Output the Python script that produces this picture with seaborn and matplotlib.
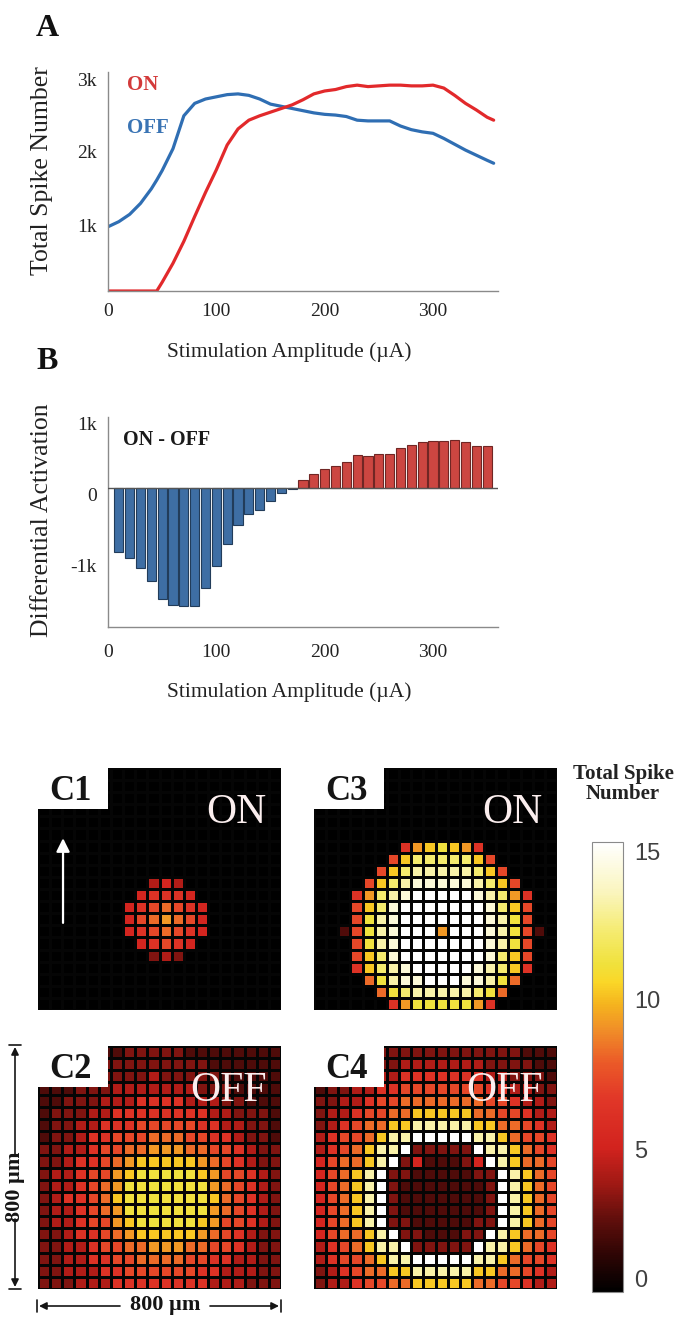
import numpy as np
import pandas as pd
import matplotlib
matplotlib.use("Agg")
import matplotlib.pyplot as plt
import matplotlib.transforms as mtransforms
from matplotlib.colors import LinearSegmentedColormap
from matplotlib.patches import Rectangle
import seaborn as sns

# ---------------- data ----------------
amplitude = [0, 10, 20, 30, 40, 45, 50, 60, 70, 80, 90, 100, 110, 120, 130, 140, 150,
             160, 170, 180, 190, 200, 210, 220, 230, 240, 250, 260, 270, 280, 290, 300,
             310, 320, 330, 340, 350, 356]
on_spikes = [0, 0, 0, 0, 0, 0, 120, 380, 680, 1020, 1350, 1660, 2000, 2220, 2340, 2400,
             2450, 2500, 2550, 2620, 2700, 2740, 2760, 2800, 2820, 2800, 2810, 2820, 2820,
             2810, 2810, 2820, 2780, 2680, 2570, 2480, 2380, 2340]
off_spikes = [880, 950, 1050, 1200, 1400, 1520, 1650, 1950, 2400, 2570, 2630, 2660, 2690,
              2700, 2680, 2630, 2560, 2530, 2500, 2470, 2440, 2420, 2410, 2390, 2340, 2330,
              2330, 2330, 2260, 2210, 2180, 2160, 2090, 2010, 1930, 1860, 1790, 1750]

diff_amplitude = [10, 20, 30, 40, 50, 60, 70, 80, 90, 100, 110, 120, 130, 140, 150, 160,
                  170, 180, 190, 200, 210, 220, 230, 240, 250, 260, 270, 280, 290, 300,
                  310, 320, 330, 340, 350]
diff_values = [-900, -990, -1130, -1310, -1570, -1660, -1670, -1670, -1420, -1100, -800,
               -520, -370, -310, -190, -80, -20, 110, 200, 270, 310, 370, 460, 450, 480,
               480, 560, 600, 640, 660, 660, 670, 640, 590, 590]

x_ticks = [0, 100, 200, 300]
a_yticks = [1000, 2000, 3000]
a_ylabels = ["1k", "2k", "3k"]
b_yticks = [-1000, 0, 1000]
b_ylabels = ["-1k", "0", "1k"]
cbar_labels = ["0", "5", "10", "15"]

# heatmaps: 20x20 grids, hex digit = total spike number (0-15)
c1_rows = ["00000000000000000000"] * 9 + [
    "00000000045400000000",
    "00000000566650000000",
    "00000005678765000000",
    "00000005789875000000",
    "00000005678765000000",
    "00000000567650000000",
    "00000000034300000000"] + ["00000000000000000000"] * 4

c3_rows = ["00000000000000000000"] * 6 + [
    "000000069aba96000000",
    "0000007accccca700000",
    "000007acdddddca70000",
    "00007acdeeeeedca7000",
    "00069cdefffffedc9600",
    "0007acefffffffeca700",
    "0007bdefffffffedb700",
    "0027bdefff9fffedb720",
    "0007bdefffffffedb700",
    "0007acefffffffeca700",
    "0006acdefffffedca600",
    "00008bdeefffeedb8000",
    "000008bcdddddcb80000",
    "00000069bbbbb9600000"]

c2_rows = [
    "22222223333322222222",
    "22222333333333222222",
    "22223333343333322222",
    "22233344444443332222",
    "22333444666644433222",
    "23334466666666443332",
    "23344666777776644332",
    "23346677788877664332",
    "33446778899988776433",
    "33466789aaaaa9876433",
    "3446779abbbbba977643",
    "3446789bbbbbbb987643",
    "346678abbbbbbba87643",
    "3446789bbbbbbb987643",
    "3446779abbbbba977643",
    "33466789aaaaa9876433",
    "33446778899988776433",
    "33446677888877664433",
    "33444667777776644433",
    "33344466666666444333"]

c4_rows = [
    "22223333333333333222",
    "22233334444444333322",
    "22333446666666443332",
    "23344667777777664433",
    "33446778888888776443",
    "34467788aaaaa8877644",
    "346788aadddddaa88764",
    "46778addfffffdda8776",
    "4678addf33333fdda876",
    "5788adf3522235fda887",
    "578adf332222233fda87",
    "578adf322222223fda87",
    "578adf322222223fda87",
    "578adf322222223fda87",
    "578adf332222233fda87",
    "5788adf3322233fda887",
    "4678addf33333fdda876",
    "46778addfffffdda8776",
    "346788aadddddaa88764",
    "34467788aaaaa8877644"]


def decode(rows):
    return np.array([[int(ch, 16) for ch in r] for r in rows], dtype=float)


# ---------------- style ----------------
sns.set_style("white")
plt.rcParams["font.family"] = ["Liberation Serif", "DejaVu Serif"]

W, H = 684, 1326
fig = plt.figure(figsize=(W / 100, H / 100), dpi=100)


def rect(x0, y0, x1, y1):
    return [x0 / W, 1 - y1 / H, (x1 - x0) / W, (y1 - y0) / H]


RED = "#e2292b"
BLUE = "#2f6eb3"
SPINE = "#8a8a8a"
down = mtransforms.ScaledTranslation(0, -0.07, fig.dpi_scale_trans)

# ---------------- panel A ----------------
axA = fig.add_axes(rect(108, 72, 498, 291))
n = len(amplitude)
dfA = pd.DataFrame({"amp": amplitude * 2,
                    "spikes": on_spikes + off_spikes,
                    "cell": ["ON"] * n + ["OFF"] * n})
sns.lineplot(data=dfA, x="amp", y="spikes", hue="cell", hue_order=["OFF", "ON"],
             palette={"ON": RED, "OFF": BLUE}, errorbar=None, legend=False,
             linewidth=2.3, ax=axA)
axA.set_xlim(0, 360)
axA.set_ylim(0, 3000)
axA.set_xticks(x_ticks)
axA.set_xticklabels([str(t) for t in x_ticks])
axA.set_yticks(a_yticks)
axA.set_yticklabels(a_ylabels)
axA.set_xlabel("Stimulation Amplitude (µA)", fontsize=15.5, color="#222")
axA.set_ylabel("Total Spike Number", fontsize=18.5, color="#222")
axA.xaxis.set_label_coords(0.464, -0.235)
axA.yaxis.set_label_coords(-0.14, 0.548)
axA.xaxis.label.set_va("top")
axA.text(0.049, 0.985, "ON", transform=axA.transAxes, color="#d33a3a",
         fontsize=15, fontweight="bold", va="top", ha="left")
axA.text(0.049, 0.79, "OFF", transform=axA.transAxes, color="#3a74b4",
         fontsize=15, fontweight="bold", va="top", ha="left")

# ---------------- panel B ----------------
axB = fig.add_axes(rect(108, 417, 498, 627))
sign = ["ON" if v > 0 else "OFF" for v in diff_values]
sns.barplot(x=diff_amplitude, y=diff_values, hue=sign, hue_order=["OFF", "ON"],
            palette={"ON": "#e3302a", "OFF": "#2d6db5"}, native_scale=True,
            dodge=False, width=0.85, errorbar=None, legend=False, ax=axB,
            linewidth=0.8)
for p in axB.patches:
    fc = np.array(p.get_facecolor()[:3])
    p.set_edgecolor(tuple(fc * 0.55))
axB.axhline(0, color="#555555", lw=1.0, zorder=4)
axB.set_xlim(0, 360)
axB.set_ylim(-1966, 1000)
axB.set_xticks(x_ticks)
axB.set_xticklabels([str(t) for t in x_ticks])
axB.set_yticks(b_yticks)
axB.set_yticklabels(b_ylabels)
axB.set_xlabel("Stimulation Amplitude (µA)", fontsize=15.5, color="#222")
axB.set_ylabel("Differential Activation", fontsize=18.5, color="#222")
axB.xaxis.set_label_coords(0.464, -0.262)
axB.yaxis.set_label_coords(-0.14, 0.51)
axB.xaxis.label.set_va("top")
axB.text(0.038, 0.94, "ON - OFF", transform=axB.transAxes, color="#1a1a1a",
         fontsize=14.5, fontweight="bold", va="top", ha="left")

for ax, xpad in ((axA, 9), (axB, 12)):
    for s in ("top", "right"):
        ax.spines[s].set_visible(False)
    for s in ("left", "bottom"):
        ax.spines[s].set_color(SPINE)
        ax.spines[s].set_linewidth(1.0)
    ax.tick_params(axis="both", direction="in", length=4, width=1, color=SPINE,
                   labelsize=14, labelcolor="#222")
    ax.tick_params(axis="x", pad=xpad)
    ax.tick_params(axis="y", pad=8)
    for lab in ax.get_yticklabels():
        lab.set_transform(lab.get_transform() + down)

# ---------------- panels C ----------------
cmap = LinearSegmentedColormap.from_list("spikes", [
    (0.00, "#000000"), (0.09, "#330605"), (0.165, "#640f0c"), (0.24, "#a01914"),
    (0.32, "#d2231e"), (0.43, "#e13728"), (0.51, "#eb5a28"), (0.58, "#f08c28"),
    (0.64, "#f5b41e"), (0.69, "#fad728"), (0.73, "#f0e13c"), (0.80, "#f5eb6e"),
    (0.89, "#faf5be"), (1.00, "#ffffff")])

axC1 = fig.add_axes(rect(38, 768, 281, 1010))
axC3 = fig.add_axes(rect(314, 768, 557, 1010))
axC2 = fig.add_axes(rect(38, 1046, 281, 1289))
axC4 = fig.add_axes(rect(314, 1046, 557, 1289))
cax = fig.add_axes(rect(592, 842, 623, 1292))

panels = [(axC1, c1_rows, "C1", "ON"), (axC3, c3_rows, "C3", "ON"),
          (axC2, c2_rows, "C2", "OFF"), (axC4, c4_rows, "C4", "OFF")]
for i, (ax, rows, lab, kind) in enumerate(panels):
    ax.set_facecolor("black")
    sns.heatmap(decode(rows), ax=ax, cmap=cmap, vmin=0, vmax=15,
                cbar=(i == 0), cbar_ax=cax if i == 0 else None,
                linewidths=0.75, linecolor="#050505",
                xticklabels=False, yticklabels=False)
    ax.add_patch(Rectangle((-0.02, 0.83), 0.31, 0.2, transform=ax.transAxes,
                           facecolor="white", edgecolor="none", zorder=5,
                           clip_on=False))
    ax.text(0.045, 0.868, lab, transform=ax.transAxes, fontsize=25,
            fontweight="bold", color="#151515", ha="left", va="baseline", zorder=6)
    ax.text(0.94, 0.772, kind, transform=ax.transAxes, fontsize=30,
            color="#fbeeee", ha="right", va="baseline", zorder=6)

axC1.annotate("", xy=(0.103, 0.71), xytext=(0.103, 0.36), xycoords="axes fraction",
              arrowprops=dict(arrowstyle="-|>", color="white", lw=1.6,
                              mutation_scale=20, shrinkA=0, shrinkB=0))

cb = axC1.collections[0].colorbar
cb.outline.set_edgecolor("#8a8a8a")
cb.outline.set_linewidth(0.8)
cax.set_yticks([0.45, 4.75, 9.75, 14.7])
cax.set_yticklabels(cbar_labels)
cax.tick_params(length=0, pad=8, labelsize=17, labelcolor="#404040")
for t in cax.get_yticklabels():
    t.set_fontfamily(["Liberation Sans", "DejaVu Sans"])

# ---------------- overlay: letters, scale bars, titles ----------------
axO = fig.add_axes([0, 0, 1, 1])
axO.set_xlim(0, W)
axO.set_ylim(H, 0)
axO.axis("off")
axO.patch.set_alpha(0)

axO.text(36, 14, "A", fontsize=23, fontweight="bold", va="top", ha="left", color="#111")
axO.text(36, 347, "B", fontsize=23, fontweight="bold", va="top", ha="left", color="#111")
axO.text(623, 764, "Total Spike\nNumber", fontsize=15, fontweight="bold",
         ha="center", va="top", linespacing=1.0, color="#222")

arrow_kw = dict(arrowstyle="-|>", color="#151515", lw=1.2, mutation_scale=11,
                shrinkA=0, shrinkB=0)
# vertical scale bar
axO.annotate("", xy=(15, 1047), xytext=(15, 1156), arrowprops=arrow_kw)
axO.annotate("", xy=(15, 1287), xytext=(15, 1219), arrowprops=arrow_kw)
axO.plot([9, 21], [1045, 1045], color="#151515", lw=1.2)
axO.plot([9, 21], [1289, 1289], color="#151515", lw=1.2)
axO.text(15, 1187, "800 µm", rotation=90, ha="center", va="center",
         fontsize=16, fontweight="bold", color="#151515")
# horizontal scale bar
axO.annotate("", xy=(39, 1306), xytext=(120, 1306), arrowprops=arrow_kw)
axO.annotate("", xy=(279, 1306), xytext=(210, 1306), arrowprops=arrow_kw)
axO.plot([37, 37], [1300, 1312], color="#151515", lw=1.2)
axO.plot([281, 281], [1300, 1312], color="#151515", lw=1.2)
axO.text(165, 1305, "800 µm", ha="center", va="center",
         fontsize=16, fontweight="bold", color="#151515")

fig.savefig("out.png", dpi=100, facecolor="white")
